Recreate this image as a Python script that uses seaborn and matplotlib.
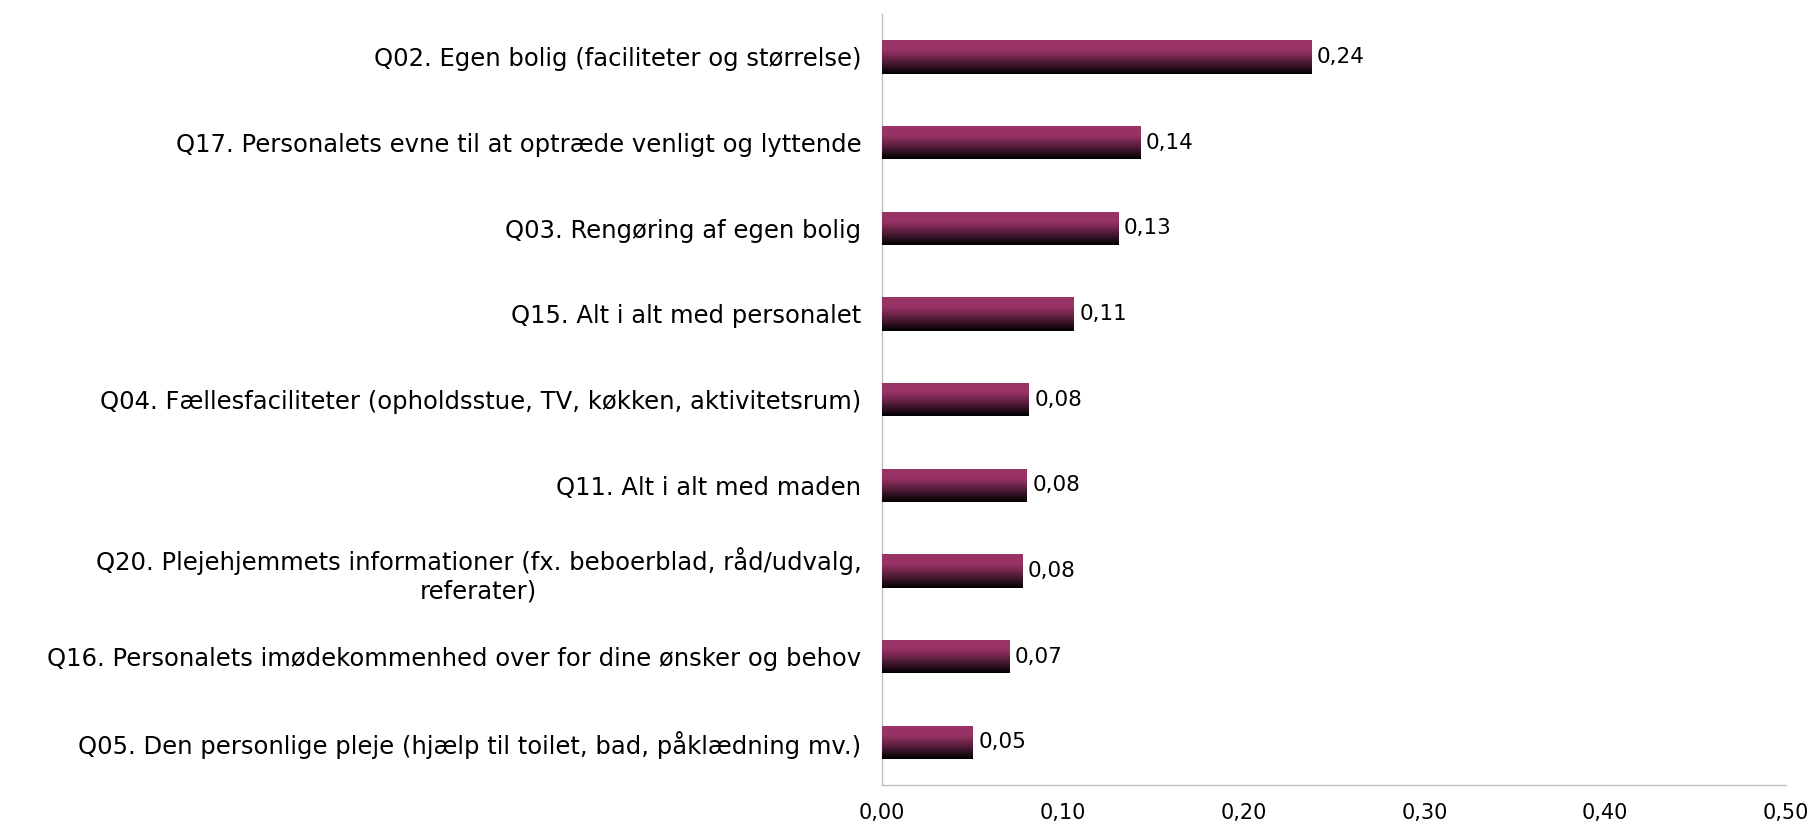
import numpy as np
import pandas as pd
import matplotlib
matplotlib.use("Agg")
import matplotlib.pyplot as plt
from matplotlib.colors import LinearSegmentedColormap
import seaborn as sns

questions = [
    "Q02. Egen bolig (faciliteter og størrelse)",
    "Q17. Personalets evne til at optræde venligt og lyttende",
    "Q03. Rengøring af egen bolig",
    "Q15. Alt i alt med personalet",
    "Q04. Fællesfaciliteter (opholdsstue, TV, køkken, aktivitetsrum)",
    "Q11. Alt i alt med maden",
    "Q20. Plejehjemmets informationer (fx. beboerblad, råd/udvalg,\nreferater)",
    "Q16. Personalets imødekommenhed over for dine ønsker og behov",
    "Q05. Den personlige pleje (hjælp til toilet, bad, påklædning mv.)",
]
scores = [0.2375, 0.1428, 0.1306, 0.1062, 0.0813, 0.0800, 0.0775, 0.0704, 0.0502]
x_ticks = [0.0, 0.1, 0.2, 0.3, 0.4, 0.5]

df = pd.DataFrame({"question": questions, "score": scores})

sns.set_theme(style="white")
plt.rcParams["font.family"] = ["DejaVu Sans"]

fig = plt.figure(figsize=(18.15, 8.24), dpi=100)
ax = fig.add_axes([0.486, 0.047, 0.498, 0.936])

sns.barplot(data=df, x="score", y="question", orient="h", width=0.39,
            color="#993366", ax=ax, saturation=1)

# vertical gradient fill: plum on top fading to black at the bottom
cmap = LinearSegmentedColormap.from_list(
    "plum_fade",
    [(0.0, "#000000"), (0.25, "#3a1428"), (0.62, "#8a2e5c"), (0.72, "#993366"), (1.0, "#993366")],
)
grad = np.linspace(0, 1, 256).reshape(-1, 1)
for patch in list(ax.patches):
    x0, y0 = patch.get_x(), patch.get_y()
    w, h = patch.get_width(), patch.get_height()
    im = ax.imshow(grad, cmap=cmap, origin="lower", aspect="auto",
                   extent=(x0, x0 + w, y0 + h, y0), zorder=3, interpolation="bilinear")
    im.set_clip_path(patch)
    ax.text(x0 + w + 0.003, y0 + h / 2, f"{w:.2f}".replace(".", ","),
            va="center", ha="left", fontsize=15.5, color="#000000")

ax.set_xlim(0, 0.5)
ax.set_ylim(len(questions) - 0.5, -0.5)
ax.set_xticks(x_ticks)
ax.set_xticklabels([f"{t:.2f}".replace(".", ",") for t in x_ticks], fontsize=15,
                   color="#000000")
ax.tick_params(axis="x", length=0, pad=13)
ax.tick_params(axis="y", length=0, pad=15, labelsize=17.5, labelcolor="#000000")
for lbl in ax.get_yticklabels():
    lbl.set_multialignment("center")
ax.set_xlabel("")
ax.set_ylabel("")

for side in ["top", "right"]:
    ax.spines[side].set_visible(False)
for side in ["left", "bottom"]:
    ax.spines[side].set_color("#BFBFBF")
    ax.spines[side].set_linewidth(1.0)

fig.savefig("out.png", dpi=100)
